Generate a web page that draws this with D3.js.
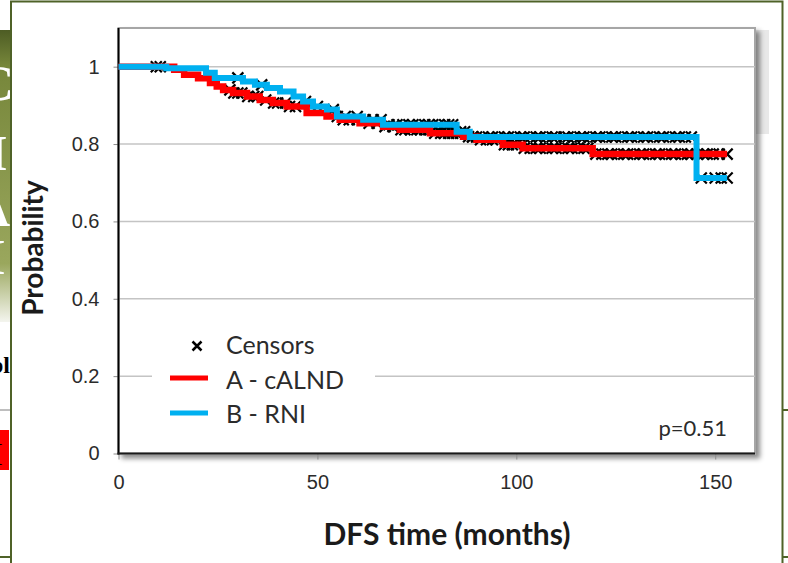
<!DOCTYPE html>
<html lang="en">
<head>
<meta charset="UTF-8">
<title>DFS Kaplan-Meier</title>
<style>
  body { margin: 0; background: #fff; }
  svg { display: block; font-family: Lato, "Open Sans", sans-serif; }
  .tick text { fill: #2b2b2b; }
</style>
</head>
<body>
<svg width="788" height="563"></svg>
<script src="https://d3js.org/d3.v7.min.js"></script>
<script>

// step changes of each curve: time (months) and survival after that time
var timesA = [0, 14, 16.5, 20, 23, 24.7, 26.3, 28.8, 32.3, 35.5, 38.8, 42.3, 47.3, 52.3, 55.6, 60.6, 66.5, 70.7, 78.3, 86.6, 90, 96.6, 101.6, 119.2];
var survA  = [1, 0.992, 0.979, 0.970, 0.958, 0.949, 0.940, 0.932, 0.923, 0.914, 0.906, 0.897, 0.880, 0.871, 0.863, 0.854, 0.845, 0.837, 0.828, 0.819, 0.811, 0.798, 0.789, 0.774];
var timesB = [0, 12, 22, 24.2, 31.3, 34.3, 37.3, 40.6, 44, 46.4, 48.9, 52.4, 54.9, 61.5, 66.5, 85, 88.3, 145.3];
var survB  = [1, 0.996, 0.984, 0.971, 0.962, 0.953, 0.945, 0.936, 0.923, 0.910, 0.897, 0.889, 0.871, 0.863, 0.850, 0.832, 0.818, 0.712];
var lastTime = 153;

// censored times per arm
var censorA = [9.5, 28, 29, 30, 31, 32.5, 34, 35, 37, 39, 40, 42, 43, 44.5, 55, 56.5, 58, 60, 63, 65, 67, 69, 71, 72, 73.5, 75, 76,
  77, 78, 79.5, 81, 82, 83, 84, 85, 86, 88, 89, 91, 92.5, 94, 95, 97, 98, 99, 100, 102, 103.5, 105, 106, 107.5, 109, 110, 111.5,
  113, 114, 115.5, 117, 118, 120, 121.5, 123, 124, 125.5, 127, 128, 129.5, 131, 132, 133.5, 135, 136, 137.5, 139, 140, 141.5,
  143, 144, 145.5, 147, 148, 149.5, 151, 153];
var censorB = [10.5, 30, 36, 47, 50, 54, 57, 60, 62, 64, 66, 68, 70, 71.5, 73, 74, 75.5, 77, 78, 79, 80.5, 82, 83, 84, 86, 87, 89,
  90, 91.5, 93, 94, 95.5, 97, 98, 99.5, 101, 102, 103.5, 105, 106, 107.5, 109, 110, 112, 113, 114.5, 116, 117, 118.5, 120, 121,
  122.5, 124, 125, 126.5, 128, 129, 130.5, 132, 133, 134.5, 136, 137, 138.5, 140, 141, 142.5, 144, 146.5, 150, 151.5, 153];

var xTicks = [0, 50, 100, 150];
var yTicks = [0, 0.2, 0.4, 0.6, 0.8, 1];
var legendItems = ["Censors", "A - cALND", "B - RNI"];
var colorA = "#ff0000", colorB = "#00b0f0";

var svg = d3.select("svg");
var defs = svg.append("defs");

// ---- slide leftovers around the frame ----
var grad = defs.append("linearGradient").attr("id", "slideGreen").attr("x1", 0).attr("x2", 0).attr("y1", 0).attr("y2", 1);
grad.append("stop").attr("offset", "0%").attr("stop-color", "#4d5c24");
grad.append("stop").attr("offset", "12%").attr("stop-color", "#76863a");
grad.append("stop").attr("offset", "80%").attr("stop-color", "#9aa75d");
grad.append("stop").attr("offset", "100%").attr("stop-color", "#f4f5ee");
defs.append("clipPath").attr("id", "leftStrip").append("rect").attr("x", 0).attr("y", 0).attr("width", 11).attr("height", 563);

var strip = svg.append("g").attr("clip-path", "url(#leftStrip)");
strip.append("rect").attr("x", 0).attr("y", 30).attr("width", 11).attr("height", 292).attr("fill", "url(#slideGreen)");
strip.selectAll("text.big").data([["C", -22, 100], ["I", -12, 170], ["A", -26, 226], ["I", -14, 274]]).enter().append("text")
    .attr("x", function(d) { return d[1]; }).attr("y", function(d) { return d[2]; })
    .attr("font-family", "Liberation Serif, serif").attr("font-weight", "bold")
    .attr("font-size", 50).attr("fill", "#fff").text(function(d) { return d[0]; });
strip.append("text").attr("x", -10).attr("y", 373).attr("font-family", "Liberation Serif, serif")
    .attr("font-weight", "bold").attr("font-size", 24).attr("fill", "#000").text("bl");
strip.append("line").attr("x1", 0).attr("x2", 11).attr("y1", 410).attr("y2", 410).attr("stroke", "#7f7f7f");
strip.append("rect").attr("x", 0).attr("y", 430).attr("width", 9).attr("height", 40).attr("fill", "#ff0000");
strip.append("text").attr("x", -6).attr("y", 462).attr("font-family", "Liberation Serif, serif")
    .attr("font-weight", "bold").attr("font-size", 26).attr("fill", "#000").text("[");
strip.append("line").attr("x1", 0).attr("x2", 11).attr("y1", 557).attr("y2", 557).attr("stroke", "#4f6228").attr("stroke-width", 2);
svg.append("line").attr("x1", 782).attr("x2", 788).attr("y1", 410).attr("y2", 410).attr("stroke", "#4f6228").attr("stroke-width", 2);
svg.append("line").attr("x1", 782).attr("x2", 788).attr("y1", 557).attr("y2", 557).attr("stroke", "#4f6228").attr("stroke-width", 2);

// outer frame
svg.append("path").attr("d", "M11,563V1.5H782.5V563").attr("fill", "none").attr("stroke", "#4f6228").attr("stroke-width", 2);

// grey panel peeking out behind the plot
svg.append("rect").attr("x", 755).attr("y", 30).attr("width", 14).attr("height", 104).attr("fill", "#e8e8e8");

// ---- plot ----
var x = d3.scaleLinear().domain([0, 160]).range([118.5, 755]);
var y = d3.scaleLinear().domain([0, 1.1]).range([453.5, 28]);

var shadow = defs.append("filter").attr("id", "shadow").attr("x", "-5%").attr("y", "-5%").attr("width", "115%").attr("height", "115%");
shadow.append("feDropShadow").attr("dx", 4).attr("dy", 4).attr("stdDeviation", 2.5)
    .attr("flood-color", "#000").attr("flood-opacity", 0.45);

svg.append("rect")
    .attr("x", x(0)).attr("y", y(1.1))
    .attr("width", x(160) - x(0)).attr("height", y(0) - y(1.1))
    .attr("fill", "#fff").attr("stroke", "#a6a6a6").attr("stroke-width", 2)
    .attr("filter", "url(#shadow)");

// gridlines
svg.append("g").selectAll("line").data(yTicks.slice(1)).enter().append("line")
    .attr("x1", x(0)).attr("x2", x(160))
    .attr("y1", function(d) { return y(d); }).attr("y2", function(d) { return y(d); })
    .attr("stroke", "#c4c4c4").attr("stroke-width", 1.5);

// axes
var yAxis = svg.append("g").attr("transform", "translate(" + x(0) + ",0)")
    .call(d3.axisLeft(y).tickValues(yTicks).tickSize(5).tickPadding(14)
      .tickFormat(function(d) { return d === 0 || d === 1 ? d3.format("d")(d) : d3.format(".1f")(d); }));
yAxis.select(".domain").remove();
yAxis.selectAll(".tick line").attr("stroke", "#8c8c8c");
yAxis.selectAll(".tick text").attr("font-size", 20);

var xAxis = svg.append("g").attr("transform", "translate(0," + y(0) + ")")
    .call(d3.axisBottom(x).tickValues(xTicks).tickSize(6).tickPadding(15));
xAxis.select(".domain").remove();
xAxis.selectAll(".tick line").attr("stroke", "#8c8c8c");
xAxis.selectAll(".tick text").attr("font-size", 20);

svg.append("line").attr("x1", x(0)).attr("x2", x(0)).attr("y1", y(1.1)).attr("y2", y(0) + 1).attr("stroke", "#000").attr("stroke-width", 2);
svg.append("line").attr("x1", x(0) - 1).attr("x2", x(160)).attr("y1", y(0)).attr("y2", y(0)).attr("stroke", "#1a1a1a").attr("stroke-width", 2);

// legend box (covers the grid line)
svg.append("rect").attr("x", 152).attr("y", 328).attr("width", 223).attr("height", 100).attr("fill", "#fff");

// ---- curves ----
function stepData(times, surv) {
  var pts = times.map(function(t, i) { return [t, surv[i]]; });
  pts.push([lastTime, surv[surv.length - 1]]);
  return pts;
}
function survAt(times, surv, t) {
  var i = d3.bisectRight(times, t) - 1;
  return surv[Math.max(0, i)];
}

var crossPath = "M-5.5,-5.5L5.5,5.5M-5.5,5.5L5.5,-5.5";
var censors = svg.append("g").attr("stroke", "#000").attr("stroke-width", 2.2).attr("fill", "none");
censors.selectAll("path.a").data(censorA).enter().append("path")
    .attr("d", crossPath)
    .attr("transform", function(t) { return "translate(" + x(t) + "," + y(survAt(timesA, survA, t)) + ")"; });
censors.selectAll("path.b").data(censorB).enter().append("path")
    .attr("d", crossPath)
    .attr("transform", function(t) { return "translate(" + x(t) + "," + y(survAt(timesB, survB, t)) + ")"; });

var line = d3.line().x(function(d) { return x(d[0]); }).y(function(d) { return y(d[1]); }).curve(d3.curveStepAfter);

svg.append("path").datum(stepData(timesA, survA)).attr("d", line)
    .attr("fill", "none").attr("stroke", colorA).attr("stroke-width", 6.5);
svg.append("path").datum(stepData(timesB, survB)).attr("d", line)
    .attr("fill", "none").attr("stroke", colorB).attr("stroke-width", 6);

// ---- legend ----
var leg = svg.append("g");
leg.append("path").attr("d", "M-4.5,-4.5L4.5,4.5M-4.5,4.5L4.5,-4.5").attr("transform", "translate(197,346)")
    .attr("stroke", "#000").attr("stroke-width", 2.5);
leg.append("line").attr("x1", 170).attr("x2", 208).attr("y1", 378).attr("y2", 378).attr("stroke", colorA).attr("stroke-width", 5);
leg.append("line").attr("x1", 170).attr("x2", 208).attr("y1", 413).attr("y2", 413).attr("stroke", colorB).attr("stroke-width", 5);
leg.selectAll("text").data(legendItems).enter().append("text")
    .attr("x", 226).attr("y", function(d, i) { return 354 + i * 34.5; })
    .attr("font-size", 25).attr("fill", "#2b2b2b").text(function(d) { return d; });

svg.append("text").attr("x", 727).attr("y", 436).attr("text-anchor", "end")
    .attr("font-size", 22).attr("fill", "#2b2b2b").text("p=0.51");

// axis titles
svg.append("text").attr("transform", "translate(43,248) rotate(-90)").attr("text-anchor", "middle")
    .attr("font-size", 28).attr("font-weight", "bold").attr("fill", "#1a1a1a").text("Probability");
svg.append("text").attr("x", 447).attr("y", 545).attr("text-anchor", "middle")
    .attr("font-size", 30).attr("font-weight", "bold").attr("fill", "#1a1a1a").text("DFS time (months)");

</script>
</body>
</html>
